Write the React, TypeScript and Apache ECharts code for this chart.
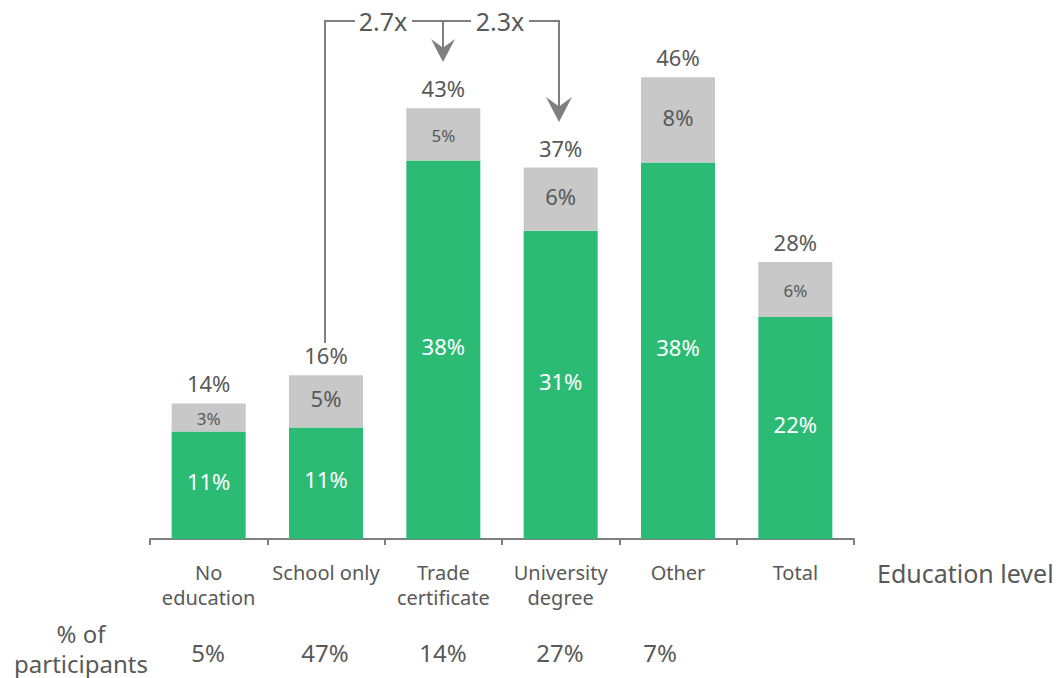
import React, { useEffect, useRef } from "react";
import * as echarts from "echarts";

const categories = ["No\neducation", "School only", "Trade\ncertificate", "University\ndegree", "Other", "Total"];
const greenValues = [10.7, 11.1, 37.7, 30.7, 37.5, 22.1];
const grayValues = [2.8, 5.2, 5.2, 6.3, 8.5, 5.5];
const greenLabels = ["11%", "11%", "38%", "31%", "38%", "22%"];
const grayLabels = ["3%", "5%", "5%", "6%", "8%", "6%"];
const totalLabels = ["14%", "16%", "43%", "37%", "46%", "28%"];
const participantLabels = ["5%", "47%", "14%", "27%", "7%"];
const multipliers = ["2.7x", "2.3x"];

const FONT = "'Noto Sans', 'DejaVu Sans', sans-serif";
const TEXT = "#595959";
const LINE = "#7F7F7F";
const GREEN = "#2CBB74";
const GRAY = "#C8C8C8";
const graySmall = [true, false, true, false, false, true];
const participantX = [208, 325, 443, 560, 660];

export default function App() {
  const ref = useRef<HTMLDivElement>(null);
  useEffect(() => {
    if (!ref.current) return;
    const chart = echarts.init(ref.current, null, { renderer: "svg" });
    const arrowHead = (x: number, tipY: number, hw: number, h: number) => ({
      type: "polygon",
      shape: { points: [[x, tipY], [x - hw, tipY - h], [x, tipY - h * 0.62], [x + hw, tipY - h]] },
      style: { fill: LINE },
    });
    const seg = (pts: number[][]) => ({
      type: "polyline",
      shape: { points: pts },
      style: { stroke: LINE, lineWidth: 2, fill: null },
    });
    chart.setOption({
      animation: false,
      textStyle: { fontFamily: FONT },
      grid: { left: 150, right: 203, top: 37, bottom: 139, containLabel: false },
      xAxis: {
        type: "category",
        data: categories,
        axisLine: { show: true, lineStyle: { color: LINE, width: 2 } },
        axisTick: { show: true, length: 6, lineStyle: { color: LINE, width: 2 } },
        axisLabel: {
          color: TEXT,
          fontSize: 20,
          lineHeight: 25,
          margin: 21,
          fontFamily: FONT,
          interval: 0,
        },
      },
      yAxis: { type: "value", min: 0, max: 50, show: false, splitLine: { show: false } },
      series: [
        {
          type: "bar",
          stack: "a",
          barWidth: 74,
          data: greenValues,
          itemStyle: { color: GREEN },
          label: {
            show: true,
            position: "inside",
            offset: [0, -4],
            color: "#fff",
            fontSize: 22,
            fontFamily: FONT,
            formatter: (p: any) => greenLabels[p.dataIndex],
          },
        },
        {
          type: "bar",
          stack: "a",
          barWidth: 74,
          data: grayValues.map((v, i) => ({
            value: v,
            label: graySmall[i] ? { fontSize: 17, offset: [0, 1] } : { fontSize: 22, offset: [0, -3] },
          })),
          itemStyle: { color: GRAY },
          label: {
            show: true,
            position: "inside",
            color: TEXT,
            fontFamily: FONT,
            formatter: (p: any) => grayLabels[p.dataIndex],
          },
        },
        {
          type: "bar",
          stack: "a",
          barWidth: 74,
          data: totalLabels.map(() => 0),
          itemStyle: { color: GRAY },
          label: {
            show: true,
            position: "top",
            distance: 9,
            color: TEXT,
            fontSize: 22,
            fontFamily: FONT,
            formatter: (p: any) => totalLabels[p.dataIndex],
          },
          silent: true,
        },
      ],
      graphic: [
        {
          type: "text",
          left: 877,
          top: 560,
          style: { text: "Education level", fill: TEXT, fontSize: 25, fontFamily: FONT },
        },
        {
          type: "text",
          x: 81,
          y: 648,
          style: {
            text: "% of\nparticipants",
            fill: TEXT,
            fontSize: 24,
            lineHeight: 30,
            fontFamily: FONT,
            align: "center",
            verticalAlign: "middle",
          },
        },
        ...participantLabels.map((t, i) => ({
          type: "text",
          x: participantX[i],
          y: 652,
          style: { text: t, fill: TEXT, fontSize: 24, fontFamily: FONT, align: "center", verticalAlign: "middle" },
        })),
        seg([[325, 343], [325, 21], [355, 21]]),
        seg([[412, 21], [471, 21]]),
        seg([[443, 21], [443, 52]]),
        seg([[529, 21], [559, 21], [559, 112]]),
        arrowHead(443, 62, 12, 23),
        arrowHead(559, 122, 13, 25),
        {
          type: "text",
          x: 383,
          y: 21,
          style: { text: multipliers[0], fill: TEXT, fontSize: 25, fontFamily: FONT, align: "center", verticalAlign: "middle" },
        },
        {
          type: "text",
          x: 500,
          y: 21,
          style: { text: multipliers[1], fill: TEXT, fontSize: 25, fontFamily: FONT, align: "center", verticalAlign: "middle" },
        },
      ],
    });
    return () => chart.dispose();
  }, []);
  return <div ref={ref} style={{ position: "absolute", left: 0, top: 0, width: 1057, height: 678 }} />;
}
